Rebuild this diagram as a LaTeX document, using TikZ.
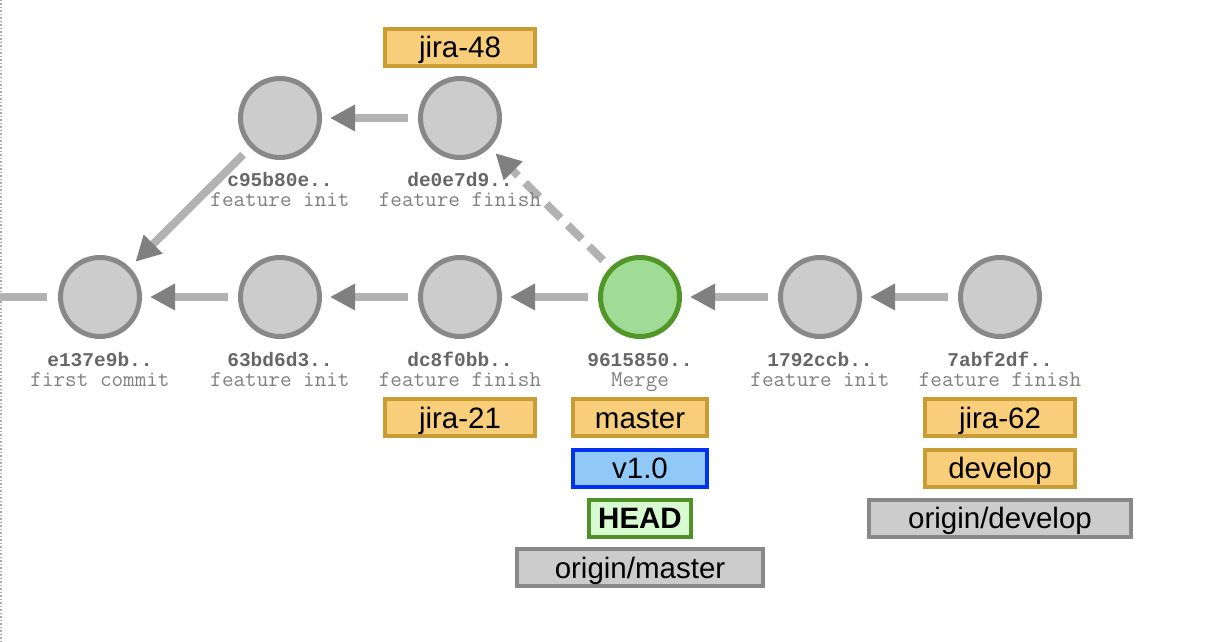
\documentclass[tikz,border=0pt]{standalone}
\usepackage{fontspec}
\setmainfont{Liberation Sans}
\newfontfamily\monob{Liberation Mono}
\usetikzlibrary{arrows.meta}
\definecolor{cfill}{RGB}{204,204,204}
\definecolor{cdraw}{RGB}{136,136,136}
\definecolor{gfill}{RGB}{160,220,150}
\definecolor{gdraw}{RGB}{82,150,40}
\definecolor{linegray}{RGB}{178,178,178}
\definecolor{tipgray}{RGB}{128,128,128}
\definecolor{hashgray}{RGB}{102,102,102}
\definecolor{msggray}{RGB}{128,128,128}
\definecolor{tagfill}{RGB}{248,206,122}
\definecolor{tagdraw}{RGB}{201,157,52}
\definecolor{verfill}{RGB}{144,200,248}
\definecolor{verdraw}{RGB}{0,50,240}
\definecolor{headfill}{RGB}{216,250,208}
\definecolor{headdraw}{RGB}{80,145,40}
\definecolor{remfill}{RGB}{204,204,204}
\definecolor{remdraw}{RGB}{136,136,136}
\tikzset{
  commit/.style={circle, minimum size=79pt, inner sep=0pt, line width=5pt, draw=cdraw, fill=cfill},
  mergecommit/.style={commit, draw=gdraw, fill=gfill},
  conn/.style={draw=linegray, line width=8pt, shorten <=10pt, shorten >=8pt,
    -{Triangle[length=25pt, width=25pt, color=tipgray]}},
  dconn/.style={conn, dash pattern=on 20pt off 10pt},
  hash/.style={anchor=base, font=\monob\bfseries\fontsize{19.5}{20}\selectfont, text=hashgray, inner sep=0pt},
  msg/.style={anchor=base, font=\ttfamily\fontsize{22.5}{22}\selectfont, text=msggray, inner sep=0pt},
  tagbase/.style={rectangle, inner sep=0pt, line width=4pt, minimum height=37pt,
    text height=21pt, text depth=0pt, font=\fontsize{29.5}{30}\selectfont},
  branch/.style={tagbase, fill=tagfill, draw=tagdraw},
  version/.style={tagbase, fill=verfill, draw=verdraw},
  headtag/.style={tagbase, fill=headfill, draw=headdraw, font=\bfseries\fontsize{29.5}{30}\selectfont},
  remote/.style={tagbase, fill=remfill, draw=remdraw}
}
\begin{document}
\begin{tikzpicture}[x=1pt, y=-1pt]
\useasboundingbox (0,0) rectangle (1210,642);
\draw[cdraw!70, line width=1.5pt, dash pattern=on 1.5pt off 2pt] (0.75,0) -- (0.75,642);

% commits
\node[commit] (e137) at (100,297) {};
\node[commit] (c63b) at (280,297) {};
\node[commit] (dc8f) at (460,297) {};
\node[mergecommit] (m961) at (640,297) {};
\node[commit] (c179) at (820,297) {};
\node[commit] (c7ab) at (1000,297) {};
\node[commit] (c95b) at (280,118) {};
\node[commit] (de0e) at (460,118) {};
\coordinate (lefte) at (0,297);

% connectors
\draw[draw=linegray, line width=8pt, shorten >=11pt] (lefte) -- (e137);
\draw[conn] (c63b) -- (e137);
\draw[conn] (dc8f) -- (c63b);
\draw[conn] (m961) -- (dc8f);
\draw[conn] (c179) -- (m961);
\draw[conn] (c7ab) -- (c179);
\draw[conn] (de0e) -- (c95b);
\draw[conn] (c95b) -- (e137);
\draw[dconn] (m961) -- (de0e);

% labels
\node[hash] (h1) at (100,366) {e137e9b..};
\node[msg]  (t1) at (100,386) {first commit};
\node[hash] (h2) at (280,366) {63bd6d3..};
\node[msg]  (t2) at (280,386) {feature init};
\node[hash] (h3) at (460,366) {dc8f0bb..};
\node[msg]  (t3) at (460,386) {feature finish};
\node[hash] (h4) at (640,366) {9615850..};
\node[msg]  (t4) at (640,386) {Merge};
\node[hash] (h5) at (820,366) {1792ccb..};
\node[msg]  (t5) at (820,386) {feature init};
\node[hash] (h6) at (1000,366) {7abf2df..};
\node[msg]  (t6) at (1000,386) {feature finish};
\node[hash] (h7) at (280,186) {c95b80e..};
\node[msg]  (t7) at (280,206) {feature init};
\node[hash] (h8) at (460,186) {de0e7d9..};
\node[msg]  (t8) at (460,206) {feature finish};

% tags
\node[branch, minimum width=150pt] (j48) at (460,47.5) {jira-48};
\node[branch, minimum width=150pt] (j21) at (460,417.5) {jira-21};
\node[branch, minimum width=134pt] (mst) at (640,417.5) {master};
\node[version, minimum width=134pt] (v10) at (640,468) {v1.0};
\node[headtag, minimum width=102pt] (hd) at (640,518) {HEAD};
\node[remote, minimum width=246pt] (om) at (640,567.5) {origin/master};
\node[branch, minimum width=150pt] (j62) at (1000,417.5) {jira-62};
\node[branch, minimum width=150pt] (dev) at (1000,468) {develop};
\node[remote, minimum width=262pt] (od) at (1000,518) {origin/develop};
\end{tikzpicture}
\end{document}
